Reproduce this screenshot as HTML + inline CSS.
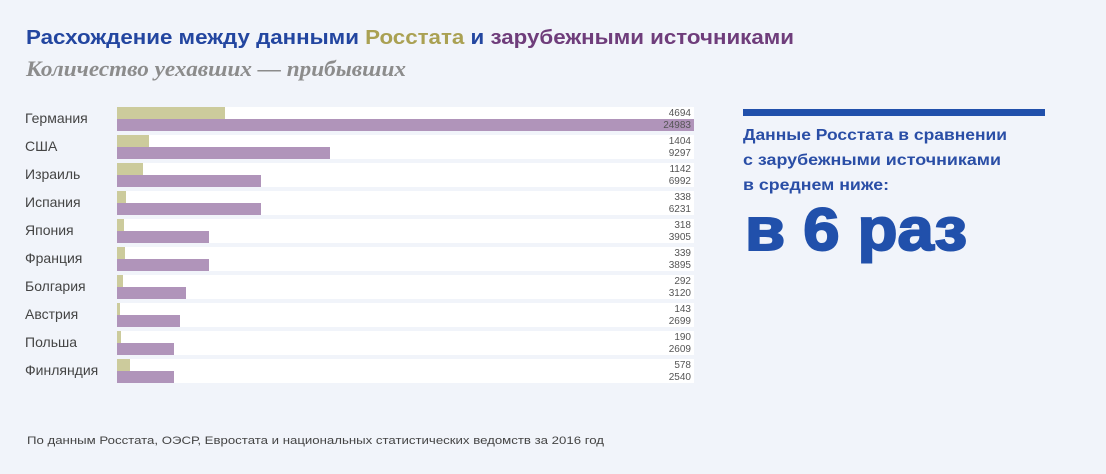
<!DOCTYPE html>
<html><head><meta charset="utf-8"><style>
html,body{margin:0;padding:0;background:#f1f4fa;}
svg{display:block}
text{font-family:"Liberation Sans",sans-serif}
</style></head><body>
<svg width="1106" height="474" viewBox="0 0 1106 474">
<rect width="1106" height="474" fill="#f1f4fa"/>
<text x="26" y="44" font-size="20" font-weight="bold" fill="#2346a0" textLength="768" lengthAdjust="spacingAndGlyphs">Расхождение между данными <tspan fill="#aaa153">Росстата</tspan> и <tspan fill="#6f3d7b">зарубежными источниками</tspan></text>
<text x="26" y="76" font-size="22" font-weight="bold" font-style="italic" fill="#8c8c8c" style="font-family:'Liberation Serif',serif" textLength="380" lengthAdjust="spacingAndGlyphs">Количество уехавших — прибывших</text>
<g id="rows">
</g>
<rect x="743" y="109" width="302" height="7" fill="#2150ab"/>
<g font-size="16" font-weight="bold" fill="#2a4ea6">
<text x="743" y="140" textLength="264" lengthAdjust="spacingAndGlyphs">Данные Росстата в сравнении</text>
<text x="743" y="165" textLength="258" lengthAdjust="spacingAndGlyphs">с зарубежными источниками</text>
<text x="743" y="190" textLength="146" lengthAdjust="spacingAndGlyphs">в среднем ниже:</text>
</g>
<text x="745" y="250" font-size="60" font-weight="900" fill="#2150ab" stroke="#2150ab" stroke-width="2" textLength="222" lengthAdjust="spacingAndGlyphs">в 6 раз</text>
<text x="27" y="444" font-size="11" fill="#444" textLength="577" lengthAdjust="spacingAndGlyphs">По данным Росстата, ОЭСР, Евростата и национальных статистических ведомств за 2016 год</text>
</svg>
<script>
var d=[["Германия",4694,24983,225,694],["США",1404,9297,149,330],["Израиль",1142,6992,143,261],["Испания",338,6231,126,261],["Япония",318,3905,124,209],["Франция",339,3895,125,209],["Болгария",292,3120,123,186],["Австрия",143,2699,120,180],["Польша",190,2609,121,174],["Финляндия",578,2540,130,174]];
var s="";
d.forEach(function(r,i){var t=107+28*i;
s+='<rect x="117" y="'+t+'" width="577" height="24" fill="#fff"/>';
s+='<rect x="117" y="'+t+'" width="'+(r[3]-117)+'" height="12" fill="#cccb9c"/>';
s+='<rect x="117" y="'+(t+12)+'" width="'+(r[4]-117)+'" height="12" fill="#b094ba"/>';
s+='<text x="25" y="'+(t+16)+'" font-size="14" fill="#444">'+r[0]+'</text>';
s+='<text x="691" y="'+(t+9)+'" font-size="10" fill="#555" text-anchor="end">'+r[1]+'</text>';
s+='<text x="691" y="'+(t+21)+'" font-size="10" fill="#555" text-anchor="end">'+r[2]+'</text>';});
document.getElementById("rows").innerHTML=s;
</script>
</body></html>
